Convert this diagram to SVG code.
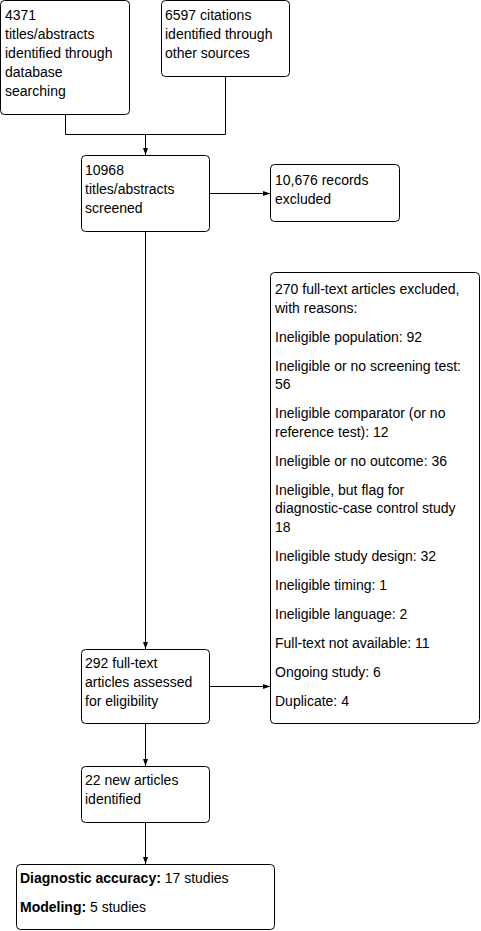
<svg xmlns="http://www.w3.org/2000/svg" width="481" height="931" viewBox="0 0 481 931">
<defs>
<marker id="arr" markerUnits="userSpaceOnUse" markerWidth="8" markerHeight="6" refX="7" refY="3" orient="auto">
<path d="M0,0.5 L7,3 L0,5.5 z" fill="#000"/>
</marker>
<style>
.box{fill:#fff;stroke:#000;stroke-width:1}
text{font-family:"Liberation Sans",Arial,sans-serif;font-size:14px;fill:#000}
.b{font-weight:bold}
.c{fill:none;stroke:#000;stroke-width:1}
</style>
</defs>
<rect width="481" height="931" fill="#fff"/>
<g id="connectors">
<path class="c" d="M65.5,114.5 V134.5 H225.5 V76.5"/>
<path class="c" d="M145.5,134.5 V155" marker-end="url(#arr)"/>
<path class="c" d="M209.5,193.5 H270" marker-end="url(#arr)"/>
<path class="c" d="M145.5,231.5 V649" marker-end="url(#arr)"/>
<path class="c" d="M209.5,686.5 H270" marker-end="url(#arr)"/>
<path class="c" d="M145.5,723.5 V766" marker-end="url(#arr)"/>
<path class="c" d="M145.5,822.5 V864" marker-end="url(#arr)"/>
</g>
<g id="n1">
<rect class="box" x="0.5" y="0.5" width="129" height="114" rx="4"/>
<text x="5" y="20">4371</text>
<text x="5" y="39">titles/abstracts</text>
<text x="5" y="58">identified through</text>
<text x="5" y="77">database</text>
<text x="5" y="96">searching</text>
</g>
<g id="n2">
<rect class="box" x="161.5" y="0.5" width="128" height="76" rx="4"/>
<text x="165" y="20">6597 citations</text>
<text x="165" y="39">identified through</text>
<text x="165" y="58">other sources</text>
</g>
<g id="n3">
<rect class="box" x="81.5" y="155.5" width="128" height="76" rx="4"/>
<text x="85" y="175">10968</text>
<text x="85" y="194">titles/abstracts</text>
<text x="85" y="213">screened</text>
</g>
<g id="n4">
<rect class="box" x="270.5" y="164.5" width="129" height="57" rx="4"/>
<text x="275" y="185">10,676 records</text>
<text x="275" y="204">excluded</text>
</g>
<g id="n5">
<rect class="box" x="270.5" y="272.5" width="209" height="451" rx="4"/>
<text x="275" y="294">270 full-text articles excluded,</text>
<text x="275" y="312.5">with reasons:</text>
<text x="275" y="341.5">Ineligible population: 92</text>
<text x="275" y="370.5">Ineligible or no screening test:</text>
<text x="275" y="389">56</text>
<text x="275" y="418">Ineligible comparator (or no</text>
<text x="275" y="436.5">reference test): 12</text>
<text x="275" y="465.5">Ineligible or no outcome: 36</text>
<text x="275" y="494.5">Ineligible, but flag for</text>
<text x="275" y="513">diagnostic-case control study</text>
<text x="275" y="531.5">18</text>
<text x="275" y="560.5">Ineligible study design: 32</text>
<text x="275" y="589.5">Ineligible timing: 1</text>
<text x="275" y="618.5">Ineligible language: 2</text>
<text x="275" y="647.5">Full-text not available: 11</text>
<text x="275" y="676.5">Ongoing study: 6</text>
<text x="275" y="705.5">Duplicate: 4</text>
</g>
<g id="n6">
<rect class="box" x="81.5" y="649.5" width="128" height="74" rx="4"/>
<text x="85" y="668">292 full-text</text>
<text x="85" y="687">articles assessed</text>
<text x="85" y="706">for eligibility</text>
</g>
<g id="n7">
<rect class="box" x="81.5" y="766.5" width="128" height="56" rx="4"/>
<text x="85" y="785">22 new articles</text>
<text x="85" y="804">identified</text>
</g>
<g id="n8">
<rect class="box" x="16.5" y="864.5" width="258" height="65" rx="4"/>
<text x="20" y="883"><tspan class="b">Diagnostic accuracy:</tspan> 17 studies</text>
<text x="20" y="912"><tspan class="b">Modeling:</tspan> 5 studies</text>
</g>
</svg>
